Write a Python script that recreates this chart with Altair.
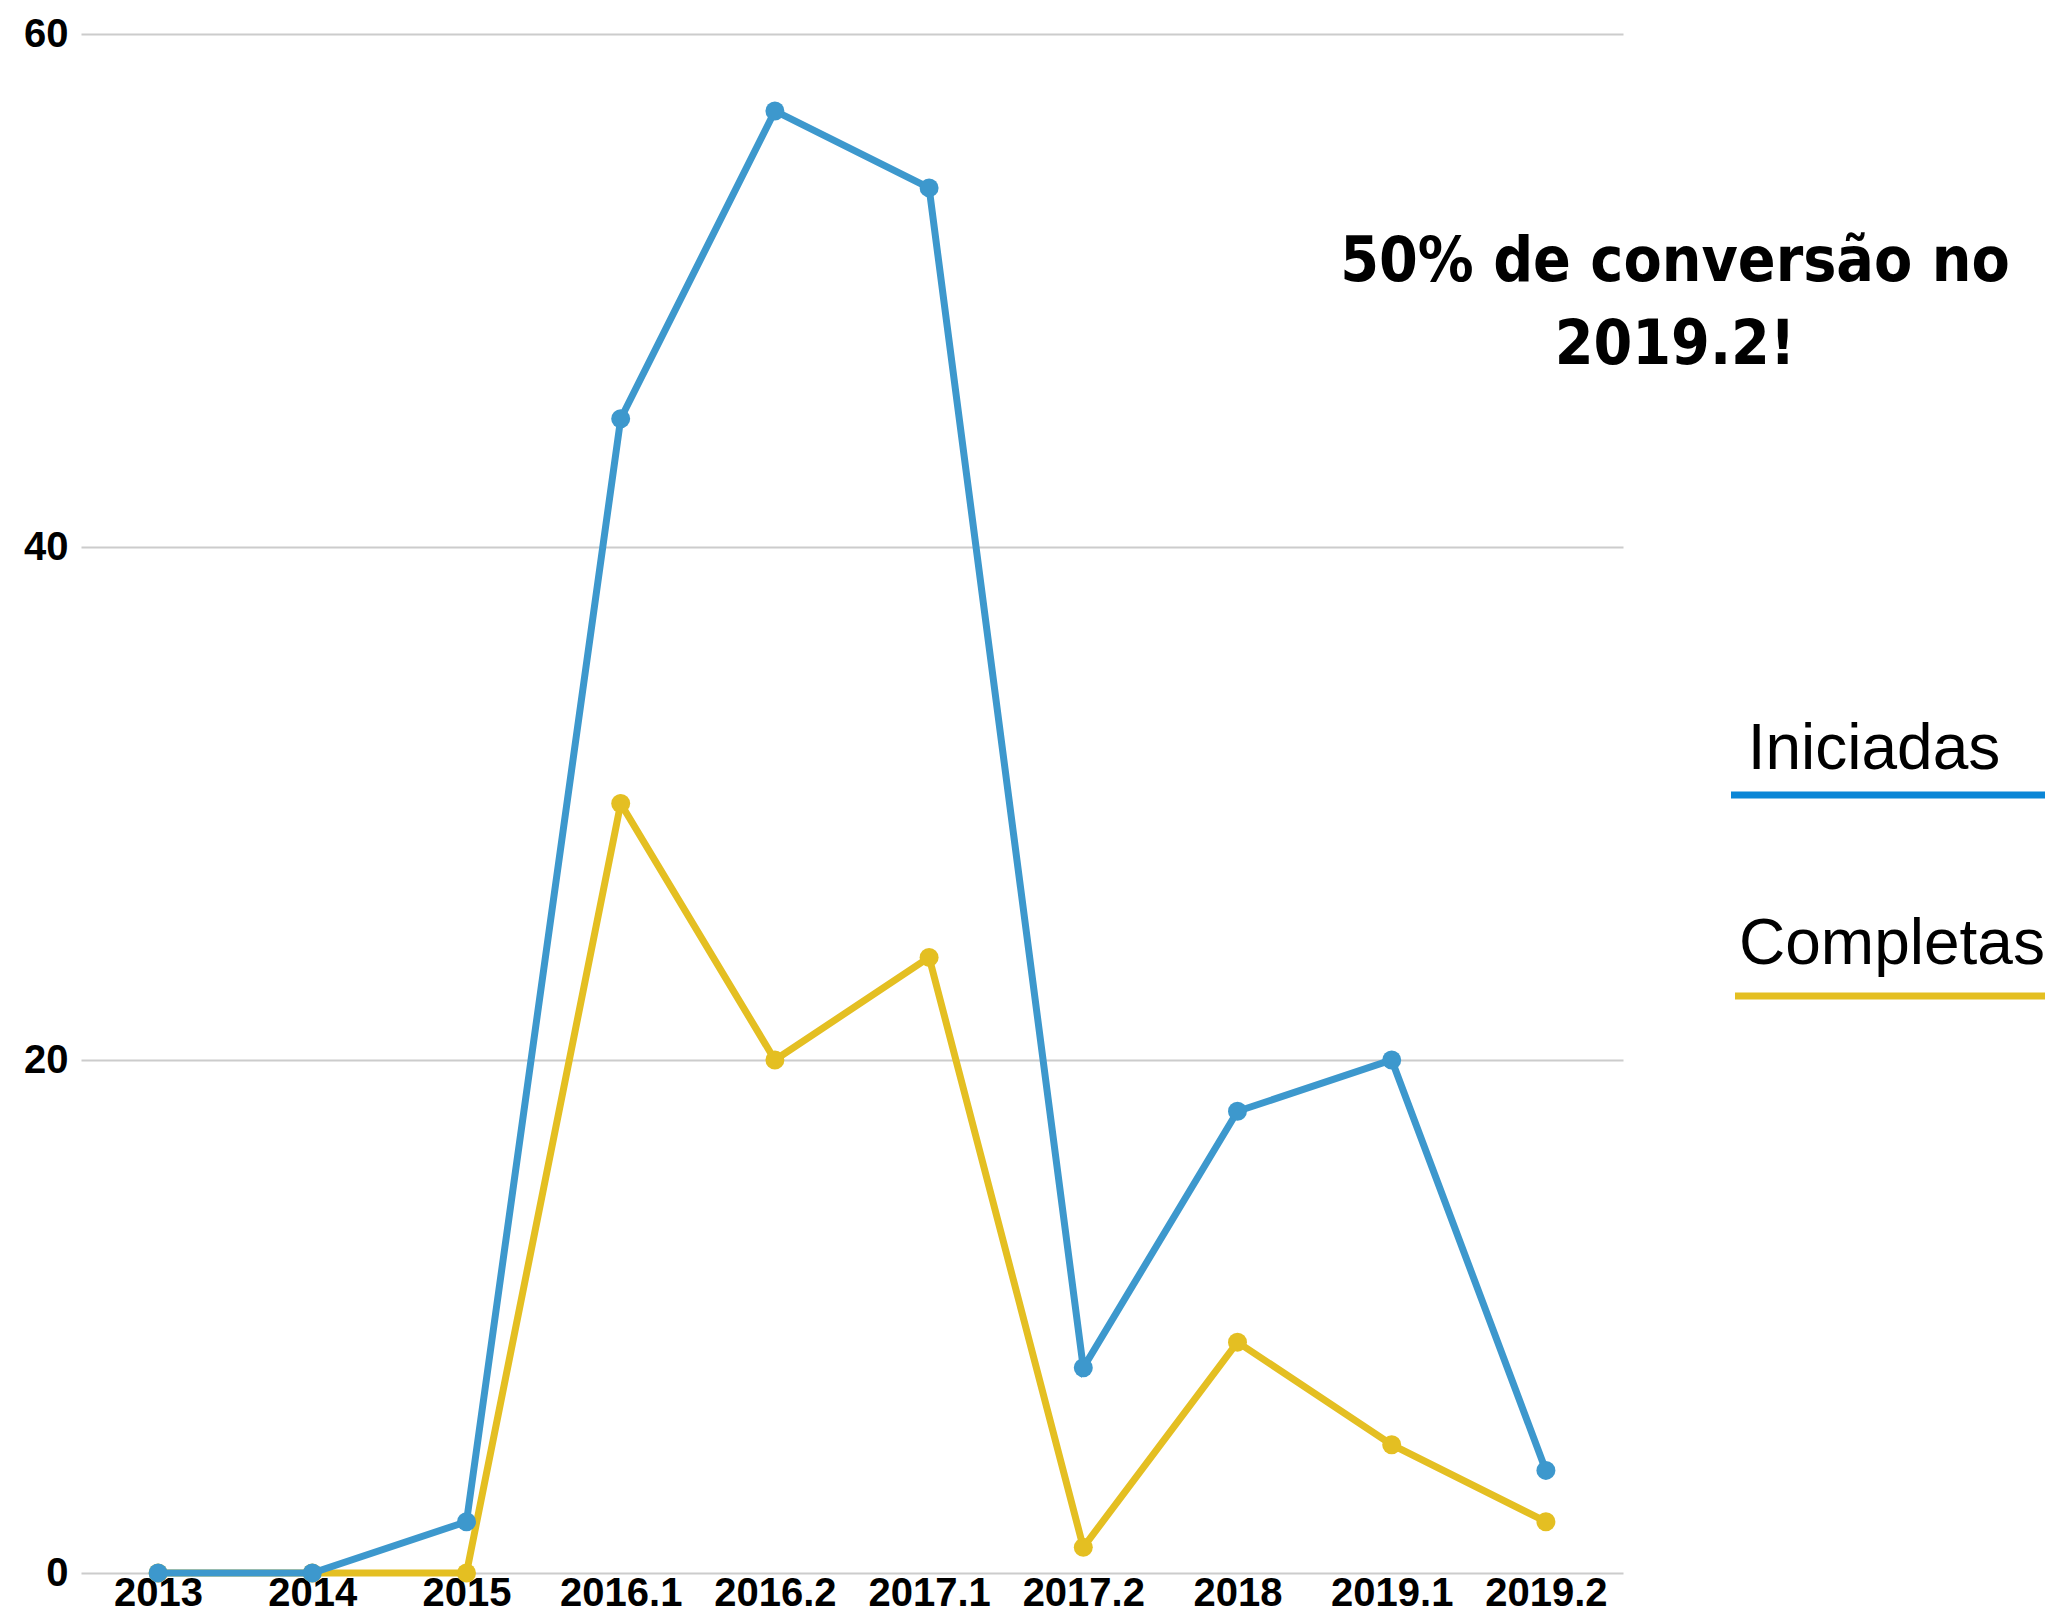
import altair as alt
import pandas as pd

categories = ["2013", "2014", "2015", "2016.1", "2016.2", "2017.1", "2017.2", "2018", "2019.1", "2019.2"]
iniciadas = [0, 0, 2, 45, 57, 54, 8, 18, 20, 4]
completas = [0, 0, 0, 30, 20, 24, 1, 9, 5, 2]
series_names = ["Iniciadas", "Completas"]
title_lines = ["50% de conversão no", "2019.2!"]
y_ticks = [0, 20, 40, 60]

line_colors = {"Iniciadas": "#3d98cd", "Completas": "#e4bf22"}
legend_colors = {"Iniciadas": "#0b86d6", "Completas": "#e4bf22"}

rows = []
for c, v in zip(categories, iniciadas):
    rows.append({"ano": c, "valor": v, "serie": "Iniciadas"})
for c, v in zip(categories, completas):
    rows.append({"ano": c, "valor": v, "serie": "Completas"})
df = pd.DataFrame(rows)

W, H = 1542, 1539
TOP, LEFT = 26, 73

x_enc = alt.X("ano:N", sort=categories,
              scale=alt.Scale(type="point", padding=0.5),
              axis=alt.Axis(title=None, labelAngle=0, labelFont="Liberation Sans",
                            labelFontWeight="bold", labelFontSize=40, labelColor="#000000",
                            labelPadding=0, ticks=False, tickSize=0, domain=False, grid=False))
y_enc = alt.Y("valor:Q", scale=alt.Scale(domain=[0, 60], nice=False),
              axis=alt.Axis(title=None, values=y_ticks, labelFont="Liberation Sans",
                            labelFontWeight="bold", labelFontSize=40, labelColor="#000000",
                            labelPadding=13, ticks=False, tickSize=0, domain=False,
                            grid=True, gridColor="#cccccc", gridWidth=2))


def series_layer(name):
    return alt.Chart(df).transform_filter(alt.datum.serie == name).mark_line(
        color=line_colors[name], strokeWidth=7,
        point=alt.OverlayMarkDef(filled=True, size=360, color=line_colors[name], opacity=1)
    ).encode(x=x_enc, y=y_enc)


base_c = series_layer("Completas")
base_i = series_layer("Iniciadas")

# plot origin in page pixels = (8 + LEFT, 8 + TOP) = (81, 34)
title = alt.Chart(pd.DataFrame({"t": [title_lines]})).mark_text(
    font="DejaVu Sans Condensed, Liberation Sans Narrow, Arial Narrow, sans-serif",
    fontWeight="bold", fontSize=62, align="center",
    baseline="alphabetic", lineHeight=83, color="#000000"
).encode(text="t", x=alt.value(1594), y=alt.value(247))

legend_layers = []
legend_pos = {"Iniciadas": (1793, 735, 761, 1650), "Completas": (1811, 930, 962, 1654)}
for name in series_names:
    tx, ty, ly, lx = legend_pos[name]
    ldf = pd.DataFrame({"serie": [name]})
    legend_layers.append(alt.Chart(ldf).mark_text(
        font="Liberation Sans", fontSize=64, align="center", baseline="alphabetic", color="#000000"
    ).encode(text="serie:N", x=alt.value(tx), y=alt.value(ty)))
    legend_layers.append(alt.Chart(ldf).mark_rule(
        color=legend_colors[name], strokeWidth=7
    ).encode(x=alt.value(lx), x2=alt.value(2000), y=alt.value(ly)))

chart = alt.layer(base_c, base_i, title, *legend_layers).properties(
    width=W, height=H,
    background="#ffffff",
    autosize=alt.AutoSizeParams(type="none"),
    padding={"left": LEFT, "top": TOP, "right": 2037 - LEFT - W, "bottom": 1606 - TOP - H},
).configure_view(stroke="transparent", strokeWidth=0, clip=False)

chart.save("out.html", embed_options={"renderer": "svg", "actions": False})
